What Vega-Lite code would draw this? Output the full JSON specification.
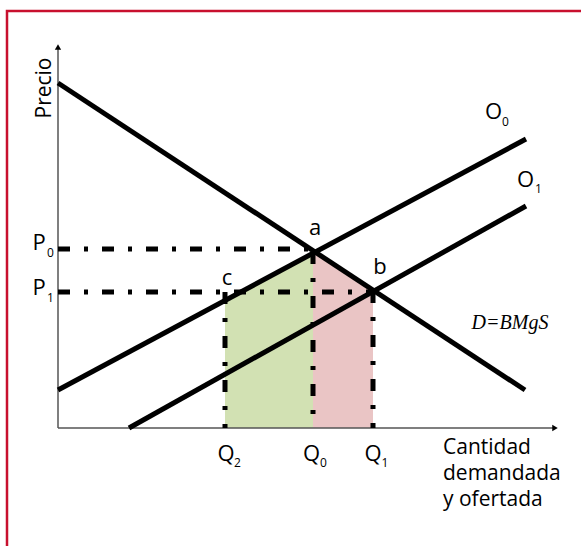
{
  "$schema": "https://vega.github.io/schema/vega-lite/v6.json",
  "width": 502,
  "height": 386,
  "autosize": {"type": "none"},
  "padding": {"left": 58, "top": 42, "right": 21, "bottom": 118},
  "background": "white",
  "config": {"view": {"stroke": null}},
  "datasets": {
    "frame": [{"x": -51, "x2": 560, "y": 417, "y2": -200}],
    "gain": [{"x": 167, "y": 128}, {"x": 255, "y": 175}],
    "loss": [{"x": 255, "y": 177}, {"x": 315, "y": 138}],
    "guides": [
      {"x": 0, "y": 179, "x2": 255, "y2": 179},
      {"x": 0, "y": 136, "x2": 315, "y2": 136},
      {"x": 167, "y": 136, "x2": 167, "y2": 0},
      {"x": 255, "y": 176, "x2": 255, "y2": 0},
      {"x": 315, "y": 137, "x2": 315, "y2": 0}
    ],
    "axes": [
      {"x": 0, "y": 0, "x2": 0, "y2": 380},
      {"x": 0, "y": 0, "x2": 496, "y2": 0}
    ],
    "tipUp": [{"x": 0, "y": 381}],
    "tipRight": [{"x": 497, "y": 0}],
    "curves": [
      {"s": "D", "x": 0, "y": 345},
      {"s": "D", "x": 467, "y": 38},
      {"s": "O0", "x": 0, "y": 38},
      {"s": "O0", "x": 468, "y": 289},
      {"s": "O1", "x": 71, "y": 0},
      {"s": "O1", "x": 468, "y": 222}
    ],
    "labels": [
      {"x": -19, "y": 185, "t": "P"},
      {"x": -19, "y": 140, "t": "P"},
      {"x": 168, "y": -26, "t": "Q"},
      {"x": 253.5, "y": -26, "t": "Q"},
      {"x": 315, "y": -26, "t": "Q"},
      {"x": 435.5, "y": 316, "t": "O"},
      {"x": 467.5, "y": 248, "t": "O"},
      {"x": 257, "y": 200, "t": "a"},
      {"x": 322, "y": 161, "t": "b"},
      {"x": 169, "y": 150, "t": "c"}
    ],
    "subs": [
      {"x": -7.5, "y": 175, "t": "0"},
      {"x": -7.5, "y": 130, "t": "1"},
      {"x": 179.5, "y": -35, "t": "2"},
      {"x": 265.5, "y": -35, "t": "0"},
      {"x": 327, "y": -35, "t": "1"},
      {"x": 447.5, "y": 306, "t": "0"},
      {"x": 480.5, "y": 239, "t": "1"}
    ],
    "xtitle": [
      {"x": 385, "y": -20, "t": "Cantidad"},
      {"x": 385, "y": -46, "t": "demandada"},
      {"x": 385, "y": -72, "t": "y ofertada"}
    ],
    "ytitle": [{"x": -13, "y": 340, "t": "Precio"}],
    "dlabel": [{"x": 452, "y": 105, "t": "D=BMgS"}]
  },
  "encoding": {
    "x": {"field": "x", "type": "quantitative", "scale": {"domain": [0, 502], "nice": false, "zero": false}, "axis": null},
    "y": {"field": "y", "type": "quantitative", "scale": {"domain": [0, 386], "nice": false, "zero": false}, "axis": null}
  },
  "layer": [
    {
      "data": {"name": "frame"},
      "mark": {"type": "rect", "fill": null, "stroke": "#C8102E", "strokeWidth": 2.5, "clip": false},
      "encoding": {"x2": {"field": "x2"}, "y2": {"field": "y2"}}
    },
    {
      "data": {"name": "gain"},
      "mark": {"type": "area", "color": "#D2E1B3", "opacity": 1},
      "encoding": {"y2": {"datum": 0}}
    },
    {
      "data": {"name": "loss"},
      "mark": {"type": "area", "color": "#EAC5C5", "opacity": 1},
      "encoding": {"y2": {"datum": 0}}
    },
    {
      "data": {"name": "axes"},
      "mark": {"type": "rule", "color": "#555555", "strokeWidth": 1.5},
      "encoding": {"x2": {"field": "x2"}, "y2": {"field": "y2"}}
    },
    {
      "data": {"name": "tipUp"},
      "mark": {"type": "point", "shape": "triangle-up", "filled": true, "color": "black", "size": 40, "opacity": 1}
    },
    {
      "data": {"name": "tipRight"},
      "mark": {"type": "point", "shape": "triangle-right", "filled": true, "color": "black", "size": 40, "opacity": 1}
    },
    {
      "data": {"name": "guides"},
      "mark": {"type": "rule", "color": "black", "strokeWidth": 5, "strokeDash": [12, 14, 4, 14], "strokeCap": "butt"},
      "encoding": {"x2": {"field": "x2"}, "y2": {"field": "y2"}}
    },
    {
      "data": {"name": "curves"},
      "mark": {"type": "line", "color": "black", "strokeWidth": 5, "strokeCap": "butt"},
      "encoding": {"detail": {"field": "s"}}
    },
    {
      "data": {"name": "labels"},
      "mark": {"type": "text", "font": "Open Sans", "fontSize": 22, "color": "black", "baseline": "middle", "align": "center"},
      "encoding": {"text": {"field": "t"}}
    },
    {
      "data": {"name": "subs"},
      "mark": {"type": "text", "font": "Open Sans", "fontSize": 12, "color": "black", "baseline": "middle", "align": "center"},
      "encoding": {"text": {"field": "t"}}
    },
    {
      "data": {"name": "xtitle"},
      "mark": {"type": "text", "font": "Open Sans", "fontSize": 21, "color": "black", "baseline": "middle", "align": "left"},
      "encoding": {"text": {"field": "t"}}
    },
    {
      "data": {"name": "ytitle"},
      "mark": {"type": "text", "font": "Open Sans", "fontSize": 21, "color": "black", "baseline": "middle", "align": "center", "angle": 270},
      "encoding": {"text": {"field": "t"}}
    },
    {
      "data": {"name": "dlabel"},
      "mark": {"type": "text", "font": "Liberation Serif", "fontStyle": "italic", "fontSize": 20, "color": "black", "baseline": "middle", "align": "center"},
      "encoding": {"text": {"field": "t"}}
    }
  ]
}
